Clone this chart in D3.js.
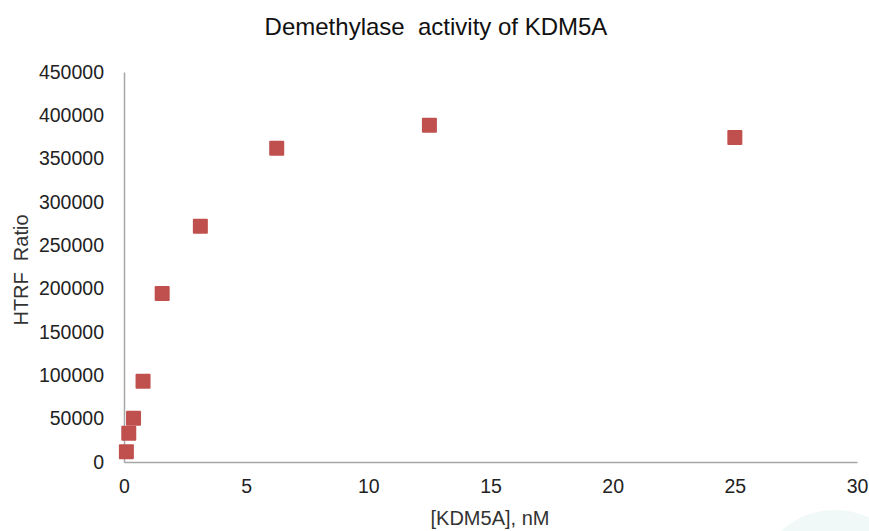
<!DOCTYPE html>
<html>
<head>
<meta charset="utf-8">
<script src="https://cdn.jsdelivr.net/npm/d3@7"></script>
<style>
  body { margin: 0; background: #fff; }
  svg { display: block; font-family: "Liberation Sans", Arial, sans-serif; }
</style>
</head>
<body>
<svg id="chart" width="869" height="531"></svg>
<script>
// Data: concentration (nM) and HTRF ratio
const kdm5a_nM = [0.098, 0.195, 0.39, 0.78, 1.5625, 3.125, 6.25, 12.5, 25];
const htrf_ratio = [11900, 33100, 50400, 93100, 194300, 272000, 362000, 388500, 374300];
const x_ticks = [0, 5, 10, 15, 20, 25, 30];
const y_ticks = [0, 50000, 100000, 150000, 200000, 250000, 300000, 350000, 400000, 450000];

const svg = d3.select('#chart');
const margin = { top: 72, left: 124, right: 12, bottom: 69 };
const width = 869, height = 531;

const xScale = d3.scaleLinear().domain([0, 30]).range([margin.left, width - margin.right]);
const yScale = d3.scaleLinear().domain([0, 450000]).range([height - margin.bottom, margin.top]);

// faint watermark circle in the bottom right corner
svg.append('circle')
    .attr('cx', 835).attr('cy', 590).attr('r', 80)
    .attr('fill', '#f1f8f8');

// Axes
const xAxis = svg.append('g')
    .attr('transform', `translate(0,${yScale(0)})`)
    .call(d3.axisBottom(xScale).tickValues(x_ticks).tickSize(0).tickPadding(17));
const yAxis = svg.append('g')
    .attr('transform', `translate(${xScale(0)},0)`)
    .call(d3.axisLeft(yScale).tickValues(y_ticks).tickSize(0).tickPadding(20).tickFormat(d3.format('d')));

[xAxis, yAxis].forEach(ax => {
    ax.select('.domain').attr('stroke', '#a6a6a6').attr('stroke-width', 1.5);
    ax.selectAll('text').attr('font-size', 19.5).attr('fill', '#222')
        .attr('font-family', '"Liberation Sans", Arial, sans-serif');
});

// Markers
const size = 15;
svg.append('g').selectAll('rect')
    .data(kdm5a_nM.map((x, i) => ({ x: x, y: htrf_ratio[i] })))
    .join('rect')
    .attr('x', d => xScale(d.x) - size / 2)
    .attr('y', d => yScale(d.y) - size / 2)
    .attr('width', size)
    .attr('height', size)
    .attr('rx', 1)
    .attr('fill', '#c0504d');

// Title and axis labels
svg.append('text')
    .attr('x', 436).attr('y', 35)
    .attr('text-anchor', 'middle')
    .attr('font-size', 24)
    .attr('fill', '#111')
    .attr('xml:space', 'preserve')
    .text('Demethylase  activity of KDM5A');

svg.append('text')
    .attr('x', 490).attr('y', 525)
    .attr('text-anchor', 'middle')
    .attr('font-size', 20)
    .attr('fill', '#333')
    .text('[KDM5A], nM');

svg.append('text')
    .attr('transform', 'translate(28,270) rotate(-90)')
    .attr('text-anchor', 'middle')
    .attr('font-size', 20)
    .attr('fill', '#333')
    .attr('xml:space', 'preserve')
    .text('HTRF  Ratio');
</script>
</body>
</html>
